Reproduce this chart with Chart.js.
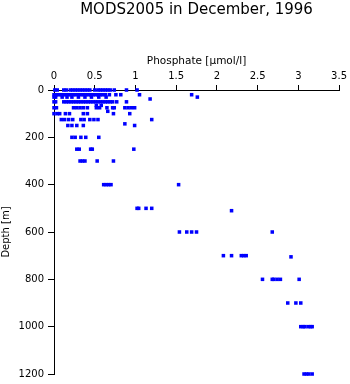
<!DOCTYPE html>
<html>
<head>
<meta charset="utf-8">
<script src="https://cdn.jsdelivr.net/npm/chart.js@4/dist/chart.umd.min.js"></script>
<style>
  html, body { margin: 0; padding: 0; background: #fff; }
  canvas { display: block; }
</style>
</head>
<body>
<canvas id="chart" width="350" height="384"></canvas>
<script>
// Sampling depths (m) and the phosphate readings (µmol/l) taken at each one
const depthLevels = [0, 20, 30, 38, 50, 65, 75, 90, 100, 125, 143, 150, 200, 250, 300, 400, 500, 510, 600, 700, 705, 800, 900, 1000, 1200];
const phosphateByLevel = [
  [0.01, 0.04, 0.12, 0.15, 0.20, 0.23, 0.26, 0.29, 0.32, 0.35, 0.38, 0.41, 0.44, 0.50, 0.54, 0.57, 0.60, 0.63, 0.66, 0.69, 0.74, 0.89, 1.02],
  [0.00, 0.03, 0.06, 0.09, 0.12, 0.15, 0.18, 0.21, 0.24, 0.27, 0.30, 0.33, 0.36, 0.39, 0.42, 0.45, 0.48, 0.51, 0.54, 0.57, 0.60, 0.63, 0.68, 0.76, 0.82, 1.05, 1.69],
  [0.00, 0.02, 0.10, 0.16, 0.22, 0.30, 0.38, 0.46, 0.55, 0.64, 1.76],
  [1.18],
  [0.00, 0.02, 0.12, 0.15, 0.18, 0.21, 0.24, 0.27, 0.30, 0.33, 0.36, 0.39, 0.42, 0.45, 0.48, 0.51, 0.54, 0.57, 0.60, 0.63, 0.66, 0.69, 0.72, 0.77, 0.89],
  [0.52, 0.58],
  [0.00, 0.03, 0.24, 0.28, 0.32, 0.36, 0.41, 0.52, 0.56, 0.65, 0.72, 0.74, 0.87, 0.91, 0.95, 0.99],
  [0.66],
  [0.00, 0.04, 0.07, 0.14, 0.19, 0.36, 0.41, 0.73, 0.93],
  [0.09, 0.13, 0.18, 0.23, 0.33, 0.37, 0.44, 0.49, 0.54, 1.20],
  [0.87],
  [0.17, 0.22, 0.28, 0.36, 0.99],
  [0.22, 0.26, 0.33, 0.39, 0.55],
  [0.28, 0.31, 0.45, 0.47, 0.98],
  [0.32, 0.35, 0.38, 0.53, 0.73],
  [0.61, 0.64, 0.67, 0.70, 1.53],
  [1.02, 1.04, 1.13, 1.20],
  [2.18],
  [1.54, 1.63, 1.69, 1.75, 2.68],
  [2.08, 2.18, 2.30, 2.33, 2.36],
  [2.91],
  [2.56, 2.68, 2.70, 2.74, 2.78, 3.01],
  [2.87, 2.97, 3.03],
  [3.03, 3.06, 3.08, 3.12, 3.15, 3.17],
  [3.07, 3.10, 3.13, 3.17]
];

// Axis tick values
const phosphateTicks = [0, 0.5, 1, 1.5, 2, 2.5, 3, 3.5];
const depthTicks = [0, 200, 400, 600, 800, 1000, 1200];

const points = [];
depthLevels.forEach((depth, i) => {
  phosphateByLevel[i].forEach(value => points.push({ x: value, y: depth }));
});

const labelFont = { family: 'DejaVu Sans', size: 10, weight: 'normal' };

new Chart(document.getElementById('chart'), {
  type: 'scatter',
  data: {
    datasets: [{
      data: points,
      backgroundColor: '#0000ff',
      borderWidth: 0,
      pointStyle: 'rect',
      pointRadius: 2.5,
      pointHoverRadius: 2.5,
      clip: false
    }]
  },
  options: {
    responsive: false,
    animation: false,
    devicePixelRatio: 1,
    layout: { padding: { left: 0, right: 10, top: 0, bottom: 9 } },
    plugins: {
      legend: { display: false },
      tooltip: { enabled: false },
      title: {
        display: true,
        fullSize: false,
        text: 'MODS2005 in December, 1996',
        color: '#000',
        font: { family: 'DejaVu Sans', size: 15, weight: 'normal' },
        padding: { top: 1, bottom: 36 }
      }
    },
    scales: {
      x: {
        type: 'linear',
        position: 'top',
        min: 0,
        max: 3.5,
        afterBuildTicks: s => { s.ticks = phosphateTicks.map(v => ({ value: v })); },
        afterFit: s => { s.height = 35; },
        ticks: { color: '#000', font: labelFont, padding: 3, maxRotation: 0, callback: v => String(v) },
        grid: { drawOnChartArea: false, tickLength: 5, color: '#000', lineWidth: 1 },
        border: { color: '#000', width: 1 },
        title: {
          display: true,
          text: 'Phosphate [µmol/l]',
          color: '#000',
          font: { family: 'DejaVu Sans', size: 10.5, weight: 'normal' },
          padding: { top: 0, bottom: 0 }
        }
      },
      y: {
        type: 'linear',
        reverse: true,
        min: 0,
        max: 1200,
        afterBuildTicks: s => { s.ticks = depthTicks.map(v => ({ value: v })); },
        afterFit: s => { s.width = 54; },
        ticks: { color: '#000', font: labelFont, padding: 4, callback: v => String(v) },
        grid: { drawOnChartArea: false, tickLength: 6, color: '#000', lineWidth: 1 },
        border: { color: '#000', width: 1 },
        title: {
          display: true,
          text: 'Depth [m]',
          color: '#000',
          font: { family: 'DejaVu Sans', size: 10, weight: 'normal' },
          padding: { top: 0, bottom: 0 }
        }
      }
    }
  }
});
</script>
</body>
</html>
